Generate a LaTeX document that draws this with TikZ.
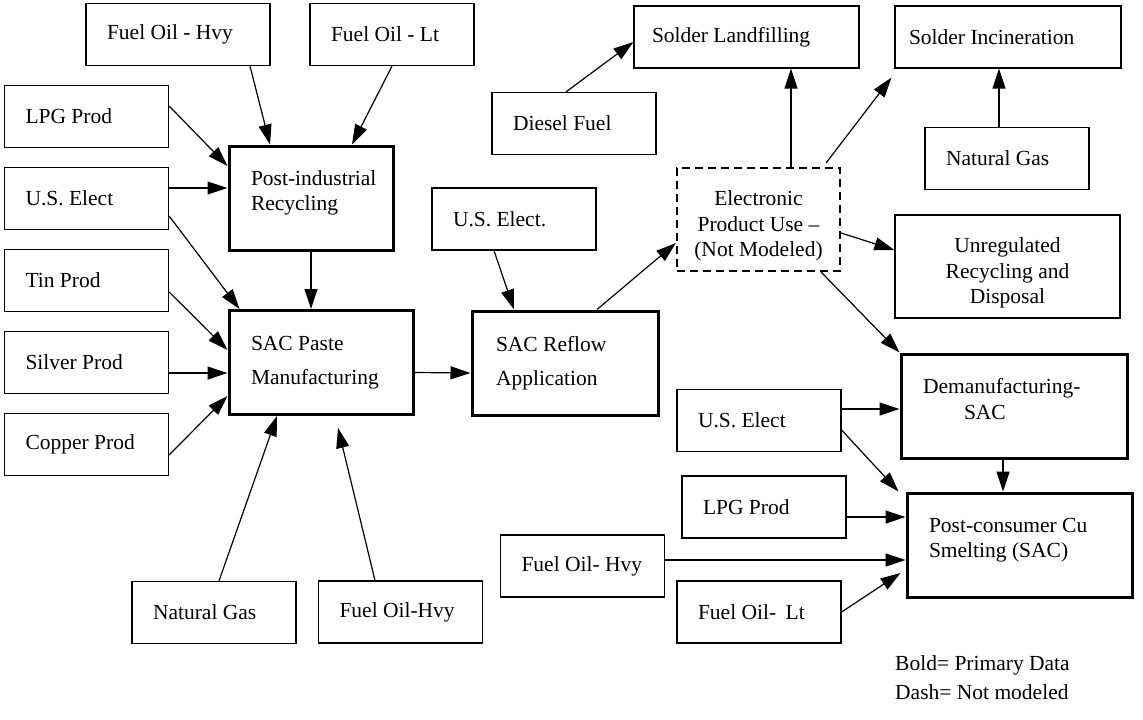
\documentclass[tikz,border=0pt]{standalone}
\usepackage{fontspec}
\setmainfont{Liberation Serif}
\usetikzlibrary{arrows.meta,positioning}

\begin{document}
\begin{tikzpicture}[%
x=1pt, y=-1pt,
>={Triangle[length=20pt,width=13pt]},
node distance=82pt,
on grid,
every node/.style={font=\fontsize{21.5}{25.5}\selectfont},
indent/.style={execute at begin node={\leftskip=#1\spaceskip=.25em\xspaceskip=.25em\relax}},
inbox/.style={draw, line width=1.2pt, text width=164pt, minimum height=62pt,
  inner xsep=0pt, align=left, indent=21pt},
boldbox/.style={inbox, line width=3pt, minimum height=104pt, indent=22pt},
midbox/.style={draw, line width=1.2pt, inner xsep=0pt, align=center,
  minimum height=103pt, text height=28pt,
  execute at begin node={\spaceskip=.25em\xspaceskip=.25em\relax}},
dashbox/.style={midbox, line width=2.2pt, dash pattern=on 8pt off 5pt},
flow/.style={->, line width=1.2pt}
]
\useasboundingbox (0,0) rectangle (1143,720);

% inputs, left side
\node[inbox, text width=184pt] (foha) at (178,34.5) {Fuel Oil - Hvy};
\node[inbox] (folta) at (392,34.5) {Fuel Oil - Lt};
\node[inbox] (lpga) at (86.5,116.5) {LPG Prod};
\node[inbox] (uselect) [below=of lpga] {U.S. Elect};
\node[inbox] (tin) [below=of uselect] {Tin Prod};
\node[inbox] (silver) [below=of tin] {Silver Prod};
\node[inbox] (copper) [below=of silver] {Copper Prod};
\node[inbox] (gasa) at (214,612.5) {Natural Gas};
\node[inbox] (fohb) at (400.5,612) {Fuel Oil-Hvy};

% processes
\node[boldbox, text depth=40pt] (pir) at (311,198) {Post-industrial\\Recycling};
\node[boldbox, text width=184pt] (paste) at (321,362.5) {SAC Paste\\[8pt]Manufacturing};
\node[inbox] (uselb) at (514,219) {U.S. Elect.};
\node[boldbox, text width=186pt, indent=24pt] (reflow) at (565,363) {SAC Reflow\\[8pt]Application};
\node[dashbox, text width=163pt] (use) at (758.5,219.5) {Electronic\\Product Use --\\(Not Modeled)};

% end of life
\node[inbox] (diesel) at (574,123.5) {Diesel Fuel};
\node[inbox, text width=225pt, indent=18pt] (landfill) at (746.5,37) {Solder Landfilling};
\node[inbox, text width=226pt, indent=14pt] (incin) at (1008,37) {Solder Incineration};
\node[inbox] (gasb) at (1007,158.5) {Natural Gas};
\node[midbox, text width=225pt] (unreg) at (1007.5,266.5) {Unregulated\\Recycling and\\Disposal};
\node[boldbox, text width=226pt, text depth=40pt] (demanuf) at (1014,406) {Demanufacturing-\\\hspace*{41pt}SAC};
\node[boldbox, text width=225pt, text depth=40pt] (smelt) at (1019.5,545) {Post-consumer Cu\\Smelting (SAC)};
\node[inbox] (uselc) at (759,420.5) {U.S. Elect};
\node[inbox] (lpgb) at (764,507) {LPG Prod};
\node[inbox] (fohc) at (582.5,566) {Fuel Oil- Hvy};
\node[inbox] (foltb) at (759,612) {Fuel Oil-\hspace{4pt} Lt};

% legend
\node[anchor=west, inner sep=0pt] (legbold) at (895,665) {Bold= Primary Data};
\node[anchor=west, inner sep=0pt] (legdash) at (895,692) {Dash= Not modeled};

% into recycling
\path[flow] ([xshift=72pt] foha.south) edge ([xshift=-41pt] pir.north);
\path[flow] (folta.south) edge ([xshift=41pt] pir.north);
\path[flow] ([yshift=10.5pt] lpga.east) edge ([yshift=32pt] pir.west);
\path[flow] ([yshift=10.5pt] uselect.east) edge ([yshift=10pt] pir.west);

% into paste
\path[flow] ([yshift=-17.5pt] uselect.east) edge ([xshift=12pt] paste.north west);
\path[flow] (pir.south) edge (pir.south |- paste.north);
\path[flow] ([yshift=-11.5pt] tin.east) edge ([yshift=12.5pt] paste.west);
\path[flow] ([yshift=-10.5pt] silver.east) edge ([yshift=-10.5pt] paste.west);
\path[flow] ([yshift=-10.5pt] copper.east) edge ([yshift=-33.5pt] paste.west);
\path[flow] ([xshift=5pt] gasa.north) edge ([xshift=-44pt] paste.south);
\path[flow] ([xshift=-25.5pt] fohb.north) edge ([xshift=17pt,yshift=-12pt] paste.south);

% reflow and use
\path[flow] ([yshift=-10pt] paste.east) edge ([yshift=-10pt] reflow.west);
\path[flow] ([xshift=-20pt] uselb.south) edge ([xshift=-51pt] reflow.north);
\path[flow] ([xshift=32pt] reflow.north) edge ([yshift=-23.5pt] use.west);

% out of use
\path[flow] ([xshift=-8pt] diesel.north) edge ([yshift=-5pt] landfill.west);
\path[flow] ([xshift=32.5pt] use.north) edge ([xshift=44.5pt] landfill.south);
\path[flow] ([xshift=-15pt,yshift=4pt] use.north east) edge ([xshift=-3pt,yshift=-9pt] incin.south west);
\path[flow] ([xshift=-8pt] gasb.north) edge ([xshift=-9pt] incin.south);
\path[flow] ([yshift=-13.5pt] use.east) edge ([yshift=16.5pt] unreg.west);
\path[flow] ([xshift=-20pt] use.south east) edge (demanuf.north west);

% smelting
\path[flow] ([yshift=11.5pt] uselc.east) edge ([yshift=-3pt] demanuf.west);
\path[flow] ([yshift=-9.5pt] uselc.east) edge ([xshift=-7pt] smelt.north west);
\path[flow] ([xshift=-11pt] demanuf.south) edge ([xshift=-16.5pt] smelt.north);
\path[flow] ([yshift=-10pt] lpgb.east) edge ([yshift=28pt] smelt.west);
\path[flow] ([yshift=6pt] fohc.east) edge ([yshift=-15pt] smelt.west);
\path[flow] (foltb.east) edge ([xshift=-5pt,yshift=-28pt] smelt.west);
\end{tikzpicture}
\end{document}
